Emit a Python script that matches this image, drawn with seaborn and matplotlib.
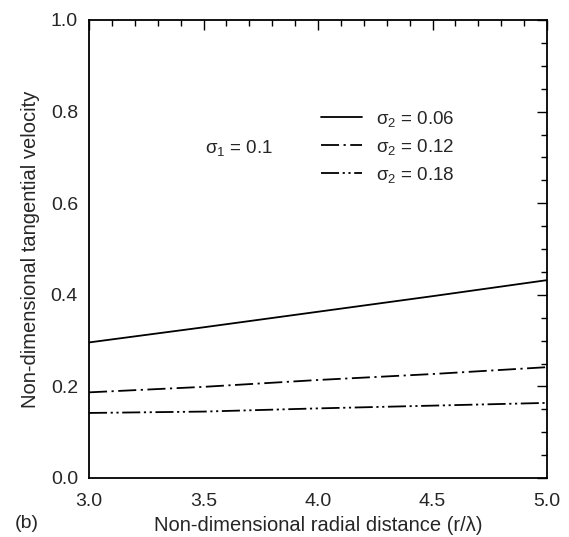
import numpy as np
import pandas as pd
import matplotlib
matplotlib.use("Agg")
import matplotlib.pyplot as plt
import seaborn as sns
from matplotlib.ticker import MultipleLocator, FormatStrFormatter

# radial distance r/lambda
r = [3.0, 3.5, 4.0, 4.5, 5.0]
# tangential velocity for each sigma_2
v_006 = [0.296, 0.329, 0.363, 0.397, 0.432]
v_012 = [0.187, 0.199, 0.214, 0.227, 0.242]
v_018 = [0.142, 0.145, 0.152, 0.158, 0.164]
labels = [r"$\sigma_2$ = 0.06", r"$\sigma_2$ = 0.12", r"$\sigma_2$ = 0.18"]

sns.set_style("white")
plt.rcParams["font.family"] = ["Liberation Sans", "DejaVu Sans"]
plt.rcParams["mathtext.fontset"] = "custom"
plt.rcParams["mathtext.rm"] = "Liberation Sans"
plt.rcParams["mathtext.it"] = "Liberation Sans"

df = pd.DataFrame({
    "r": r * 3,
    "v": v_006 + v_012 + v_018,
    "case": [labels[0]] * 5 + [labels[1]] * 5 + [labels[2]] * 5,
})

fig = plt.figure(figsize=(5.69, 5.37), dpi=100)
ax = fig.add_axes([89 / 569, 1 - 478 / 537, 458 / 569, 458 / 537])

dash_styles = {labels[0]: "", labels[1]: (10, 2.5, 1.2, 2.5), labels[2]: (10, 2, 1.2, 2, 1.2, 2)}
sns.lineplot(data=df, x="r", y="v", style="case", dashes=dash_styles, color="black",
             linewidth=1.3, ax=ax, legend=False)

lines = ax.get_lines()
ax.legend(lines[:3], labels, loc="upper left", bbox_to_anchor=(0.49, 0.822), frameon=False,
          fontsize=13.5, handlelength=2.2, labelspacing=0.42, handletextpad=0.75,
          borderaxespad=0)

ax.text(3.505, 0.71, r"$\sigma_1$ = 0.1", fontsize=13.5)

ax.set_xlim(3.0, 5.0)
ax.set_ylim(0.0, 1.0)
ax.xaxis.set_major_locator(MultipleLocator(0.5))
ax.xaxis.set_minor_locator(MultipleLocator(0.1))
ax.yaxis.set_major_locator(MultipleLocator(0.2))
ax.yaxis.set_minor_locator(MultipleLocator(0.05))
ax.xaxis.set_major_formatter(FormatStrFormatter("%.1f"))
ax.yaxis.set_major_formatter(FormatStrFormatter("%.1f"))
ax.tick_params(which="both", direction="in", top=True, right=True, labelsize=14, width=1, color="black")
ax.tick_params(which="major", length=7)
ax.tick_params(axis="x", which="major", pad=11)
ax.tick_params(axis="y", which="major", pad=8)
ax.tick_params(which="minor", length=4)
for s in ax.spines.values():
    s.set_linewidth(1.3)
    s.set_color("black")

ax.set_xlabel("Non-dimensional radial distance (r/λ)", fontsize=14.5, labelpad=4)
ax.set_ylabel("Non-dimensional tangential velocity", fontsize=14.5, labelpad=8)
fig.text(15 / 569, 1 - 524 / 537, "(b)", fontsize=14, va="center")

fig.savefig("out.png", dpi=100)
